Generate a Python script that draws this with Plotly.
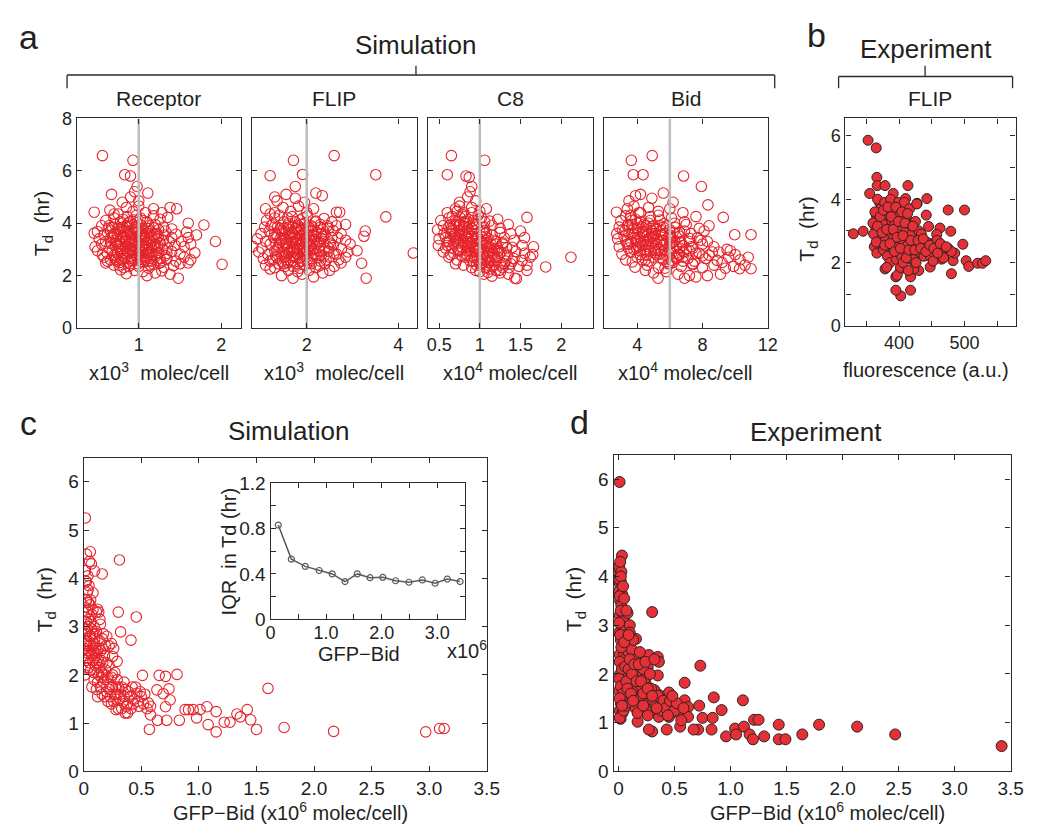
import plotly.graph_objects as go

# ---------------- DATA ----------------
receptor_pts = [
    (0.85,2.07),(1.10,2.00),(1.48,1.90),(0.95,2.20),(1.05,2.15),(1.20,2.10),(1.38,2.05),(0.78,2.22),(1.28,2.18),
    (0.70,2.40),(0.82,2.30),(0.90,2.45),(1.00,2.35),(1.12,2.28),(1.18,2.42),(1.30,2.32),(1.42,2.38),(1.50,2.45),(1.60,2.48),(2.01,2.43),(0.60,2.48),(1.25,2.47),
    (0.58,2.70),(0.66,2.60),(0.74,2.55),(0.83,2.65),(0.92,2.58),(0.98,2.72),(1.06,2.52),(1.14,2.66),(1.22,2.58),(1.34,2.62),(1.45,2.55),(1.55,2.70),(1.63,2.60),(0.87,2.52),(1.02,2.62),
    (0.50,2.95),(0.62,2.85),(0.70,2.78),(0.78,2.92),(0.86,2.82),(0.94,2.90),(1.00,2.80),(1.08,2.95),(1.16,2.80),(1.24,2.88),(1.32,2.76),(1.40,2.92),(1.50,2.82),(1.68,2.87),(0.56,2.78),(1.12,2.88),
    (0.47,3.10),(0.55,3.20),(0.64,3.05),(0.72,3.15),(0.80,3.02),(0.88,3.22),(0.96,3.08),(1.04,3.18),(1.10,3.00),(1.18,3.12),(1.26,3.22),(1.35,3.05),(1.44,3.15),(1.55,3.10),(1.63,3.20),(1.93,3.30),(0.84,3.12),
    (0.52,3.40),(0.60,3.30),(0.68,3.45),(0.76,3.32),(0.84,3.42),(0.92,3.28),(1.00,3.38),(1.07,3.48),(1.15,3.30),(1.22,3.42),(1.30,3.35),(1.40,3.45),(1.52,3.30),(1.60,3.45),(0.97,3.50),
    (0.50,3.68),(0.58,3.55),(0.66,3.70),(0.74,3.58),(0.82,3.72),(0.90,3.60),(0.98,3.66),(1.06,3.55),(1.14,3.70),(1.22,3.60),(1.32,3.70),(1.45,3.58),(1.58,3.66),(1.70,3.55),(0.46,3.62),
    (0.55,3.90),(0.63,3.80),(0.71,3.95),(0.79,3.82),(0.87,3.98),(0.95,3.85),(1.03,3.92),(1.11,3.80),(1.20,3.95),(1.30,3.85),(1.40,3.78),(1.60,4.00),(1.79,3.93),(0.68,3.85),
    (0.60,4.10),(0.70,4.20),(0.78,4.05),(0.86,4.25),(0.94,4.12),(1.02,4.20),(1.10,4.05),(1.18,4.28),(1.26,4.15),(1.35,4.22),(0.98,4.02),
    (0.46,4.42),(0.65,4.50),(0.75,4.35),(0.85,4.60),(0.93,4.45),(1.00,4.65),(1.08,4.40),(1.18,4.55),(1.38,4.60),(1.46,4.55),(1.28,4.40),
    (0.67,5.10),(0.80,4.80),(0.90,5.00),(1.00,4.85),(1.11,5.15),(0.95,5.20),
    (0.56,6.58),(0.93,6.40),(0.83,5.85),(0.90,5.80),(0.98,5.40),
    (0.80,3.50),(0.90,3.00),(1.00,3.25),(1.10,2.70),(0.85,3.85),(1.05,3.00),(0.75,3.10),(1.15,3.45),(0.95,2.60),(0.70,3.60),
    (0.62,2.55),(0.68,2.95),(0.73,3.35),(0.77,3.75),(0.81,4.15),(0.66,3.25),(0.71,2.68),(0.76,2.40),(0.79,3.20),(0.83,2.85),
    (0.86,3.55),(0.89,4.05),(0.91,2.65),(0.93,3.15),(0.96,3.85),(0.99,2.45),(1.01,3.05),(1.03,3.60),(1.05,4.10),(1.07,2.75),
    (1.09,3.25),(1.12,3.90),(1.14,2.40),(1.16,3.05),(1.19,3.55),(1.21,2.75),(1.23,3.15),(1.27,2.50),(1.29,3.00),(1.31,3.55),
    (1.34,2.85),(1.37,3.30),(0.64,3.90),(0.70,4.35),(0.79,2.60),(0.88,2.35),(0.97,4.30),(1.06,3.35),(1.13,3.15),(1.24,3.75),
    (0.74,2.85),(0.84,3.68),(0.92,3.45),(1.02,2.90),(1.11,2.55),(1.18,3.82),(1.26,2.65),(0.69,3.48),(0.87,3.10),(0.99,3.70),
    (0.72,2.62),(0.78,3.05),(0.82,3.45),(0.86,3.90),(0.90,2.75),(0.94,3.30),(0.98,3.78),(1.02,2.68),(1.06,3.12),(1.10,3.62),
    (1.14,2.90),(1.18,3.35),(1.22,2.85),(1.24,3.50),(0.75,3.80),(0.80,2.75),(0.84,3.28),(0.88,3.70),(0.92,2.95),(0.96,3.40),
    (1.00,2.95),(1.04,3.45),(1.08,2.60),(1.12,3.40),(1.16,2.55),(1.20,3.20),(0.73,3.25),(0.77,2.50),(0.81,3.85),(0.89,3.35),
    (0.97,2.85),(1.05,3.80),(1.13,3.60),(1.21,3.05),(0.66,3.45),(0.93,3.62),(1.01,3.50),(1.09,2.85),(0.85,2.95),(0.95,3.10),
]

flip_pts = [
    (1.45,2.00),(1.70,1.90),(1.90,2.05),(2.15,1.95),(2.35,2.10),(1.60,2.20),(2.05,2.20),(2.50,2.20),(3.30,1.90),(1.20,2.25),(1.80,2.15),
    (1.10,2.40),(1.30,2.30),(1.50,2.45),(1.70,2.35),(1.95,2.40),(2.20,2.30),(2.40,2.45),(2.60,2.35),(2.75,2.48),(3.20,2.47),(1.85,2.28),
    (1.05,2.65),(1.20,2.55),(1.35,2.70),(1.55,2.60),(1.75,2.70),(1.90,2.55),(2.10,2.65),(2.30,2.55),(2.50,2.70),(2.70,2.60),(2.85,2.70),(1.65,2.52),(2.00,2.72),
    (0.95,2.90),(1.15,2.80),(1.30,2.95),(1.45,2.82),(1.62,2.92),(1.80,2.80),(1.98,2.95),(2.15,2.85),(2.32,2.78),(2.48,2.92),(2.65,2.82),(2.90,2.90),(3.10,2.95),(1.72,2.98),
    (0.82,3.11),(1.02,3.05),(1.20,3.20),(1.38,3.08),(1.55,3.18),(1.72,3.05),(1.88,3.22),(2.05,3.10),(2.22,3.20),(2.40,3.05),(2.58,3.15),(2.76,3.02),(2.95,3.20),(1.95,3.00),
    (0.92,3.40),(1.10,3.30),(1.28,3.45),(1.45,3.32),(1.62,3.48),(1.80,3.35),(1.98,3.45),(2.15,3.30),(2.32,3.42),(2.50,3.28),(2.68,3.45),(2.85,3.35),(3.25,3.50),(1.70,3.28),
    (1.00,3.60),(1.18,3.70),(1.35,3.55),(1.52,3.68),(1.70,3.58),(1.88,3.72),(2.05,3.55),(2.22,3.65),(2.40,3.58),(2.58,3.72),(2.75,3.60),(3.28,3.70),(1.60,3.75),
    (1.08,3.85),(1.25,3.95),(1.42,3.80),(1.60,3.92),(1.78,3.82),(1.95,3.98),(2.12,3.85),(2.30,3.95),(2.48,3.80),(2.65,3.90),(2.85,3.95),(1.88,3.78),
    (1.12,4.10),(1.30,4.20),(1.50,4.05),(1.68,4.25),(1.85,4.12),(2.02,4.28),(2.20,4.08),(2.38,4.18),(2.55,4.05),(1.95,4.00),
    (1.10,4.55),(1.30,4.40),(1.48,4.60),(1.65,4.45),(1.82,4.65),(2.00,4.40),(2.15,4.55),(2.65,4.42),(2.72,4.42),(1.20,4.35),
    (1.35,4.85),(1.55,5.10),(1.75,4.95),(1.95,4.80),(2.20,5.15),(2.34,5.05),(1.30,5.00),
    (1.20,5.81),(1.71,6.40),(1.91,5.86),(1.75,5.40),(2.60,6.58),(3.51,5.85),(3.73,4.24),(4.33,2.86),
    (1.70,3.40),(1.85,3.00),(2.00,3.60),(1.60,2.85),(2.10,3.90),(1.90,3.30),(1.75,3.80),(2.05,2.50),
    (1.25,2.60),(1.35,3.00),(1.42,3.40),(1.50,3.80),(1.58,4.20),(1.30,3.60),(1.38,2.45),(1.48,2.90),(1.55,3.25),(1.62,2.60),
    (1.68,3.65),(1.75,4.05),(1.80,2.45),(1.84,3.15),(1.90,3.55),(1.95,2.75),(2.00,3.20),(2.05,3.85),(2.10,2.45),(2.15,3.00),
    (2.20,3.50),(2.25,2.70),(2.30,3.15),(2.35,3.75),(2.42,2.60),(2.48,3.05),(2.55,3.45),(2.60,2.85),(1.22,3.90),(1.40,4.30),
    (1.52,2.35),(1.66,3.00),(1.78,3.40),(1.92,4.20),(2.08,3.35),(2.18,4.05),(2.28,2.38),(2.45,3.90),(1.33,3.20),(1.72,2.70),
    (1.88,2.55),(2.02,2.95),(2.12,3.70),(2.38,3.30),(1.45,3.60),(1.60,4.00),(1.98,3.75),(2.25,3.30),(1.82,3.90),(2.52,3.20),
    (1.32,2.75),(1.40,3.25),(1.46,3.70),(1.52,2.70),(1.58,3.05),(1.64,3.55),(1.70,2.90),(1.76,3.20),(1.82,3.65),(1.86,2.68),
    (1.92,3.05),(1.96,3.50),(2.02,2.62),(2.08,3.15),(2.14,3.55),(2.20,2.80),(2.26,3.25),(2.32,3.60),(2.38,2.75),(1.36,3.85),
    (1.44,2.55),(1.54,3.40),(1.62,3.85),(1.68,2.75),(1.74,3.50),(1.86,3.40),(1.94,2.85),(2.04,3.70),(2.12,2.75),(2.18,3.38),
    (2.28,2.95),(2.36,3.50),(1.48,3.12),(1.58,2.50),(1.78,3.05),(1.98,3.25),(2.10,3.05),(2.30,3.85),(1.66,3.30),(1.88,3.95),
]

c8_pts = [
    (0.95,2.20),(1.05,2.05),(1.15,1.98),(1.25,2.10),(1.35,2.05),(1.43,1.90),(1.45,1.88),(1.00,2.15),(1.20,2.20),(1.58,2.20),(1.10,2.12),
    (0.80,2.40),(0.90,2.30),(1.00,2.45),(1.08,2.32),(1.18,2.42),(1.28,2.30),(1.38,2.45),(1.48,2.35),(1.58,2.40),(1.81,2.33),(0.70,2.45),
    (0.62,2.70),(0.72,2.60),(0.82,2.70),(0.92,2.55),(1.02,2.68),(1.12,2.58),(1.22,2.70),(1.32,2.55),(1.42,2.65),(1.52,2.58),(1.62,2.70),(2.12,2.70),(0.97,2.62),
    (0.55,2.90),(0.64,2.80),(0.74,2.95),(0.84,2.82),(0.94,2.92),(1.04,2.80),(1.14,2.95),(1.24,2.85),(1.34,2.78),(1.44,2.92),(1.55,2.85),(1.65,2.80),(0.88,2.98),
    (0.49,3.15),(0.58,3.05),(0.68,3.20),(0.78,3.08),(0.88,3.22),(0.98,3.05),(1.08,3.15),(1.18,3.02),(1.28,3.20),(1.40,3.08),(1.52,3.15),(1.66,3.10),(0.73,3.00),
    (0.50,3.40),(0.60,3.30),(0.70,3.45),(0.80,3.32),(0.90,3.48),(1.00,3.30),(1.10,3.42),(1.20,3.30),(1.30,3.45),(1.42,3.35),(1.55,3.45),(0.85,3.38),
    (0.48,3.75),(0.56,3.60),(0.65,3.70),(0.75,3.55),(0.85,3.68),(0.95,3.60),(1.05,3.72),(1.15,3.55),(1.25,3.65),(1.38,3.60),(1.50,3.70),(0.70,3.62),
    (0.55,3.90),(0.65,3.80),(0.75,3.95),(0.85,3.82),(0.95,3.98),(1.05,3.85),(1.15,3.92),(1.25,3.80),(1.35,3.95),(0.80,3.88),
    (0.52,4.10),(0.62,4.20),(0.72,4.05),(0.82,4.25),(0.92,4.10),(1.02,4.20),(1.12,4.08),(1.22,4.15),(1.58,4.22),(0.87,4.00),
    (0.60,4.40),(0.70,4.55),(0.80,4.40),(0.90,4.60),(1.00,4.45),(1.08,4.55),(0.75,4.65),
    (0.75,4.80),(0.85,5.00),(0.95,4.85),(0.88,5.20),
    (0.65,6.58),(1.06,6.40),(0.60,5.85),(0.83,5.80),(0.87,5.75),(0.90,5.40),
    (0.85,3.10),(0.95,3.40),(1.05,2.90),(0.75,3.70),(1.15,2.70),(0.90,3.80),(1.00,3.00),(0.80,3.30),(1.10,2.50),(0.95,2.75),
    (0.58,3.45),(0.62,3.85),(0.66,4.25),(0.70,3.30),(0.74,3.90),(0.78,4.35),(0.82,3.55),(0.86,4.15),(0.90,3.25),(0.94,3.70),
    (0.98,4.30),(1.02,3.50),(0.60,3.15),(0.68,2.85),(0.76,3.40),(0.84,2.95),(0.88,2.55),(0.92,3.05),(0.96,2.40),(1.00,2.85),
    (1.04,3.25),(1.06,2.30),(1.10,2.75),(1.13,3.10),(1.16,2.35),(1.20,2.60),(1.23,2.95),(1.26,2.40),(1.30,2.75),(1.33,3.05),
    (1.36,2.30),(1.40,2.55),(0.72,4.45),(0.80,4.05),(0.96,3.95),(1.08,3.65),(1.18,3.35),(0.64,3.60),(0.85,3.25),(0.93,2.70),
    (1.03,2.60),(1.12,2.25),(1.28,3.25),(0.70,3.95),(0.90,4.40),(1.06,4.05),(0.78,2.75),(0.98,3.45),(1.15,2.95),(1.24,2.20),
    (0.62,3.30),(0.66,3.70),(0.70,4.10),(0.74,3.25),(0.78,3.60),(0.82,4.00),(0.86,3.10),(0.90,3.50),(0.94,3.85),(0.98,2.95),
    (1.02,3.30),(1.06,3.60),(1.10,2.90),(1.14,3.20),(1.18,2.70),(1.22,3.05),(0.64,3.95),(0.72,3.45),(0.76,2.95),(0.80,3.75),
    (0.84,3.45),(0.88,2.75),(0.92,3.95),(0.96,3.20),(1.00,3.65),(1.04,2.70),(1.08,3.35),(1.12,2.50),(1.16,2.85),(1.20,3.20),
    (1.26,2.90),(1.30,2.45),(0.68,3.50),(0.76,4.20),(0.86,3.60),(0.94,3.05),(1.02,2.45),(1.10,3.10),(0.66,3.05),(0.82,3.15),
]

bid_pts = [
    (5.28,1.90),(4.50,2.20),(5.00,2.10),(5.80,2.15),(6.50,2.05),(7.20,2.00),(7.60,1.95),(8.30,2.00),(9.10,2.05),(6.90,1.90),
    (3.87,2.32),(4.60,2.40),(5.30,2.30),(6.00,2.45),(6.70,2.35),(7.40,2.42),(8.00,2.30),(8.70,2.40),(9.40,2.28),(10.27,2.26),(10.97,2.26),(9.90,2.35),(10.60,2.40),(5.70,2.28),
    (3.30,2.60),(4.00,2.70),(4.70,2.55),(5.40,2.68),(6.10,2.58),(6.80,2.70),(7.50,2.55),(8.20,2.65),(8.90,2.58),(9.60,2.70),(10.30,2.60),(10.80,2.70),(3.70,2.52),(6.40,2.72),
    (3.07,2.82),(3.60,2.90),(4.20,2.80),(4.80,2.95),(5.40,2.82),(6.00,2.92),(6.60,2.80),(7.20,2.95),(7.80,2.85),(8.40,2.78),(9.00,2.90),(9.70,2.95),(5.10,2.88),
    (2.90,3.10),(3.40,3.20),(3.95,3.05),(4.50,3.18),(5.05,3.02),(5.60,3.20),(6.20,3.08),(6.80,3.15),(7.40,3.05),(8.00,3.20),(8.70,3.10),(4.25,3.25),
    (2.80,3.40),(3.30,3.30),(3.85,3.45),(4.40,3.32),(4.95,3.48),(5.50,3.35),(6.05,3.45),(6.60,3.30),(7.20,3.42),(7.90,3.35),(4.70,3.40),
    (2.75,3.60),(3.25,3.72),(3.80,3.55),(4.35,3.68),(4.90,3.60),(5.45,3.72),(6.00,3.55),(6.60,3.65),(7.30,3.60),(8.10,3.70),(9.97,3.56),(10.97,3.56),
    (2.90,3.85),(3.45,3.95),(4.00,3.80),(4.55,3.92),(5.10,3.82),(5.65,3.98),(6.30,3.85),(7.00,3.95),(7.80,3.80),(8.40,3.90),
    (3.00,4.10),(3.60,4.20),(4.20,4.05),(4.80,4.25),(5.40,4.12),(6.10,4.20),(6.90,4.05),(7.60,4.25),(9.27,4.22),(3.30,4.28),
    (2.73,4.42),(3.40,4.55),(4.10,4.40),(4.70,4.60),(5.30,4.45),(6.00,4.55),(6.80,4.40),(8.33,4.70),(3.80,4.65),
    (3.50,4.85),(4.20,5.10),(4.90,4.95),(5.60,5.15),(6.20,4.80),(7.93,5.40),(3.90,5.05),
    (3.64,6.40),(4.92,6.58),(3.76,5.85),(4.36,5.85),(6.84,5.80),
    (4.50,3.00),(5.00,3.50),(4.00,3.30),(5.50,2.90),(4.80,3.80),(3.70,3.60),(5.20,3.20),(6.00,3.20),(4.30,2.60),(5.80,3.90),
    (3.20,3.50),(3.40,3.90),(3.60,4.30),(3.80,3.00),(4.00,3.60),(4.20,4.40),(4.40,2.90),(4.60,3.50),(4.80,4.10),(5.00,2.70),
    (5.20,3.40),(5.40,3.90),(5.60,2.60),(5.80,3.25),(6.00,3.75),(6.20,2.50),(6.40,3.10),(6.60,3.50),(6.80,2.55),(7.00,3.00),
    (7.20,3.30),(7.40,2.45),(7.60,2.85),(3.10,3.75),(3.50,3.20),(3.90,4.15),(4.10,3.10),(4.30,3.85),(4.50,2.60),(4.70,3.10),
    (4.90,3.70),(5.10,2.95),(5.30,4.30),(5.50,3.15),(5.70,3.60),(5.90,2.45),(6.10,3.45),(6.30,4.00),(6.50,2.80),(6.70,3.25),
    (6.90,3.70),(7.10,2.65),(7.30,3.10),(7.70,3.45),(8.00,2.75),(8.30,3.30),(8.60,2.90),(9.20,2.50),(9.50,3.00),(10.00,2.80),
    (3.50,3.60),(3.70,3.95),(3.90,3.35),(4.10,3.75),(4.30,3.15),(4.50,3.65),(4.70,4.00),(4.90,3.25),(5.10,3.60),(5.30,3.00),
    (5.50,3.55),(5.70,2.95),(5.90,3.45),(6.10,2.85),(6.30,3.30),(6.50,3.60),(3.60,3.30),(3.80,3.80),(4.00,4.00),(4.20,3.45),
    (4.40,3.95),(4.60,2.80),(4.80,3.45),(5.00,3.90),(5.20,2.80),(5.40,3.30),(5.60,3.85),(5.80,2.75),(6.00,3.05),(6.20,3.65),
    (6.40,2.65),(6.60,3.05),(3.45,3.05),(3.65,4.10),(4.15,2.95),(4.65,3.30),(5.15,3.75),(5.65,3.35),(6.15,3.25),(6.85,2.90),
]

exp_flip_pts = [
    (352.5,5.86),(365,5.62),(366,4.69),(366.5,4.43),(378.5,4.43),(413.5,4.43),(391,4.18),(355,4.18),(330,2.91),(345,2.99),
    (442.5,4.02),(410,4.02),(427.5,3.87),(475,3.66),(500,3.66),(441.5,3.50),(445,3.14),(462.5,3.09),(479,2.99),(457.5,2.89),
    (497.5,2.58),(502.5,2.06),(506.5,1.88),(520,1.98),(527.5,1.98),(532.5,2.06),(480,1.65),(482.5,2.06),(485,2.30),(470,2.37),
    (465,2.11),(447.5,1.86),(430,1.75),(417.5,1.55),(417.5,1.13),(402.5,0.95),(395,1.13),(395,1.55),(402.5,1.80),(378.5,1.80),(422.5,1.80),
    (362,3.20),(365,3.50),(368,2.80),(362,2.50),(370,3.90),(366,2.30),(372,3.70),(364,3.00),(369,3.30),(360,3.25),(373,2.60),(367,4.00),
    (378,3.90),(380,3.40),(383,2.90),(376,2.40),(385,3.70),(388,3.10),(382,2.20),(379,2.70),(387,4.00),(390,2.50),(384,3.50),(377,3.20),(386,2.00),(381,1.85),(389,3.30),
    (392,3.60),(395,2.90),(398,2.30),(393,3.20),(400,3.50),(403,2.70),(396,2.10),(401,3.00),(394,2.50),(404,2.20),(399,3.90),(391,2.75),(397,1.60),(402,1.85),(405,3.30),
    (407,2.60),(410,3.00),(412,2.30),(408,3.90),(415,2.80),(418,2.10),(411,3.40),(416,3.70),(413,2.55),(419,2.40),(406,2.00),(414,1.75),(417,3.20),(420,2.90),
    (423,2.60),(428,2.30),(432,2.80),(425,3.30),(436,2.50),(430,3.00),(438,2.20),(422,2.10),(434,2.90),(427,3.85),(440,2.60),(426,2.00),
    (445,2.40),(450,2.60),(455,2.30),(460,2.50),(448,2.20),(465,2.40),(470,2.30),(458,2.70),(452,2.05),(475,2.45),(442,2.65),(468,2.15),(480,2.35),
    (361,2.90),(363,3.60),(365,2.65),(367,3.15),(371,3.45),(374,2.95),(376,3.65),(378,2.55),(381,3.05),(383,3.75),
    (386,2.60),(388,3.45),(391,3.05),(393,2.35),(395,3.75),(397,2.80),(399,3.30),(402,2.45),(404,3.60),(406,2.85),
    (409,3.25),(411,2.15),(413,3.55),(415,2.40),(418,2.70),(421,3.15),(424,2.40),(429,2.70),(433,2.45),(437,2.75),
    (441,2.35),(447,2.55),(453,2.45),(459,2.30),(463,2.60),(472,2.50),
]

sim_bid_pts = [
    (0.014,5.25),(0.023,4.50),(0.057,4.55),(0.066,4.30),(0.094,4.15),(0.16,4.09),(0.31,4.38),(0.014,4.16),(0.023,3.93),(0.037,3.76),
    (0.30,3.30),(0.456,3.20),(0.32,2.89),(0.41,2.72),(0.145,3.05),(0.12,3.36),(0.24,2.65),(0.25,2.38),(0.29,2.28),(0.51,1.99),
    (0.655,1.99),(0.71,1.97),(0.81,2.01),(0.635,1.69),(0.74,1.71),(0.69,1.61),(0.71,1.34),(0.56,1.42),(0.58,1.17),(0.57,0.87),
    (0.64,1.06),(0.72,1.06),(0.83,1.06),(0.75,1.48),(0.88,1.28),(0.98,1.11),(1.01,1.28),(1.07,1.34),(1.08,0.97),(1.15,1.24),
    (1.15,0.82),(1.22,1.02),(1.27,1.02),(1.33,1.19),(1.36,1.13),(1.42,1.28),(1.45,1.07),(1.50,0.87),(1.60,1.72),(1.74,0.91),
    (2.17,0.83),(2.97,0.82),(3.09,0.89),(3.13,0.89),(0.95,1.28),(0.91,1.28),(0.38,1.21),(0.36,1.21),(0.28,1.28),
    (0.01,2.00),(0.02,2.30),(0.03,2.60),(0.01,2.85),(0.025,3.10),(0.015,3.40),(0.04,2.15),(0.035,2.45),(0.02,2.70),(0.045,3.00),
    (0.03,3.30),(0.005,2.55),(0.05,2.80),(0.01,3.20),(0.04,3.50),(0.03,3.70),(0.015,3.95),(0.045,3.85),
    (0.06,2.10),(0.07,2.40),(0.08,2.60),(0.06,2.80),(0.09,3.00),(0.07,3.25),(0.10,2.20),(0.085,2.50),(0.065,2.95),(0.095,2.75),
    (0.055,3.45),(0.08,3.35),(0.10,2.55),(0.07,1.75),(0.09,1.90),
    (0.11,1.70),(0.13,2.00),(0.15,2.30),(0.12,2.50),(0.17,1.85),(0.14,2.70),(0.19,2.10),(0.16,2.55),(0.12,1.55),(0.18,2.40),
    (0.11,2.90),(0.20,1.65),(0.15,1.95),(0.13,3.30),(0.17,2.85),(0.19,2.60),
    (0.21,1.45),(0.23,1.80),(0.25,2.00),(0.22,2.20),(0.27,1.60),(0.24,1.40),(0.29,1.90),(0.26,2.55),(0.28,1.50),(0.30,1.75),
    (0.22,2.60),(0.27,2.05),(0.30,1.30),
    (0.32,1.60),(0.34,1.45),(0.36,1.70),(0.38,1.40),(0.40,1.55),(0.42,1.75),(0.44,1.50),(0.46,1.62),(0.48,1.35),(0.50,1.55),
    (0.35,1.85),(0.41,1.30),(0.47,1.45),(0.33,1.30),(0.45,1.75),(0.49,1.65),
    (0.52,1.40),(0.55,1.30),(0.58,1.35),(0.53,1.60),
    (0.005,2.40),(0.015,2.65),(0.02,2.90),(0.008,3.05),(0.025,3.55),(0.035,2.35),(0.04,2.70),(0.012,2.15),(0.03,2.95),(0.045,2.50),
    (0.05,2.25),(0.055,2.60),(0.06,3.10),(0.065,2.45),(0.075,2.85),(0.08,2.30),(0.085,2.05),(0.09,2.65),(0.095,2.35),(0.10,2.85),
    (0.105,2.45),(0.11,2.25),(0.115,2.05),(0.12,1.85),(0.125,2.30),(0.13,2.55),(0.14,2.15),(0.145,1.75),(0.15,2.50),(0.155,2.05),
    (0.16,1.60),(0.165,2.25),(0.17,2.00),(0.18,1.55),(0.185,1.90),(0.20,2.25),(0.21,1.95),(0.22,1.70),(0.23,1.55),(0.24,1.95),
    (0.25,1.75),(0.26,1.45),(0.28,1.75),(0.29,1.60),(0.31,1.50),(0.33,1.75),(0.35,1.55),(0.37,1.35),(0.39,1.65),(0.43,1.40),
    (0.02,3.55),(0.04,3.15),(0.06,3.55),(0.035,4.05),(0.05,4.35),(0.08,3.70),(0.11,3.30),(0.14,3.15),(0.16,2.75),(0.20,2.80),
]

exp_bid_pts = [
    (0.009,5.94),(0.03,4.43),(0.00,4.16),(0.01,3.86),(0.015,3.60),(0.30,3.27),(0.02,3.06),(0.155,2.72),(0.27,2.39),(0.35,2.35),
    (0.36,2.25),(0.35,1.97),(0.26,2.15),(0.24,1.82),(0.73,2.17),(0.59,1.82),(0.85,1.52),(1.11,1.46),(0.92,1.26),(0.59,1.46),
    (0.45,1.62),(0.36,1.57),(0.32,1.67),(0.72,1.35),(0.75,1.10),(0.84,1.10),(0.83,0.86),(0.71,0.86),(0.67,0.86),(0.55,0.92),
    (0.43,0.86),(0.30,0.82),(0.27,0.86),(0.17,1.02),(0.96,0.72),(1.04,0.88),(1.05,0.76),(1.12,0.92),(1.17,0.76),(1.20,0.66),
    (1.21,1.06),(1.25,1.06),(1.30,0.72),(1.43,0.96),(1.43,0.66),(1.49,0.66),(1.64,0.76),(1.79,0.96),(2.13,0.92),(2.47,0.76),
    (3.42,0.52),(0.018,1.08),(0.01,1.25),(0.02,1.52),(0.54,1.20),(0.62,1.32),(0.49,1.38),(0.62,1.12),(0.45,1.12),(0.36,1.12),
    (0.31,1.28),(0.25,1.42),
    (0.005,4.20),(0.01,4.00),(0.02,3.90),(0.005,3.70),(0.015,3.50),(0.025,3.40),(0.01,3.20),(0.03,3.00),(0.005,2.85),(0.02,2.70),
    (0.035,2.55),(0.01,2.40),(0.025,2.25),(0.04,3.25),(0.03,3.65),(0.015,2.00),(0.03,1.85),(0.005,1.65),(0.02,1.40),(0.035,1.20),
    (0.01,1.10),(0.04,2.90),(0.025,4.10),(0.015,4.30),
    (0.05,3.10),(0.06,2.90),(0.07,2.60),(0.05,2.40),(0.08,2.20),(0.06,2.00),(0.09,1.80),(0.07,1.60),(0.05,1.50),(0.10,1.90),
    (0.08,2.70),(0.06,2.30),(0.09,2.45),(0.10,3.00),(0.045,1.25),(0.07,1.35),(0.08,3.25),(0.065,1.95),
    (0.11,2.10),(0.13,1.80),(0.15,2.35),(0.12,2.50),(0.17,1.60),(0.14,1.50),(0.19,2.00),(0.16,2.15),(0.11,1.40),(0.18,1.75),
    (0.13,2.70),(0.20,1.40),(0.15,1.30),(0.12,1.65),(0.17,1.20),(0.19,2.45),(0.10,2.85),
    (0.21,1.55),(0.23,1.90),(0.25,1.30),(0.22,2.10),(0.27,1.50),(0.29,1.70),(0.24,1.60),(0.31,1.45),(0.28,2.00),(0.33,1.35),
    (0.35,1.55),(0.38,1.25),(0.26,1.15),(0.40,1.45),(0.22,1.35),
    (0.42,1.30),(0.46,1.45),(0.50,1.25),(0.44,1.15),(0.52,1.40),(0.56,1.05),(0.48,1.55),(0.58,1.30),
    (0.005,3.95),(0.01,3.60),(0.02,3.30),(0.005,3.05),(0.015,2.80),(0.025,2.55),(0.01,2.25),(0.03,2.10),(0.005,1.90),(0.02,1.75),
    (0.04,1.60),(0.01,1.50),(0.03,1.35),(0.05,2.65),(0.06,2.15),(0.07,1.85),(0.08,1.70),(0.09,2.10),(0.10,2.30),(0.11,1.60),
    (0.12,2.00),(0.13,1.45),(0.14,2.20),(0.16,1.85),(0.18,2.20),(0.20,1.85),(0.22,1.60),(0.24,2.25),(0.26,1.70),(0.30,1.55),
    (0.32,2.30),(0.34,1.30),(0.05,3.55),(0.07,3.30),(0.09,2.80),(0.02,4.00),(0.04,3.80),
]

iqr_bid = [0.14, 0.375, 0.625, 0.875, 1.11, 1.34, 1.56, 1.79, 2.02, 2.25, 2.49, 2.73, 2.96, 3.18, 3.41]
iqr_td = [0.83, 0.53, 0.466, 0.43, 0.40, 0.333, 0.40, 0.367, 0.37, 0.34, 0.327, 0.347, 0.318, 0.355, 0.333]

sim_names = ["Receptor", "FLIP", "C8", "Bid"]
sim_units = ["x10<sup>3</sup>\u00a0 molec/cell", "x10<sup>3</sup>\u00a0 molec/cell",
             "x10<sup>4</sup> molec/cell", "x10<sup>4</sup> molec/cell"]
sim_ref = [1, 2, 1, 6]  # gray reference lines (nominal levels)
sim_xticks = [[1, 2], [2, 4], [0.5, 1, 1.5, 2], [4, 8, 12]]
sim_xtext = [["1", "2"], ["2", "4"], ["0.5", "1", "1.5", "2"], ["4", "8", "12"]]

# ---------------- STYLE / LAYOUT ----------------
W, H = 1050, 831
RED = "rgb(229,36,43)"
FILL = "rgb(228,48,54)"
EDGE = "rgb(50,35,35)"
FONT = "Liberation Sans, Arial, sans-serif"
TXT = "#231f20"
AX = "#2b2b2b"


def px(x):
    return x / W


def py(y):
    return 1 - y / H


def dx(a, b):
    return [px(a), px(b)]


def dy(top, bottom):
    return [py(bottom), py(top)]


def xs(p):
    return [a for a, _ in p]


def ys(p):
    return [b for _, b in p]


def axis(domain, rng, tickvals, ticktext, anchor, size=18, show=True, minor=None, standoff=0):
    d = dict(domain=domain, range=rng, tickvals=tickvals, ticktext=ticktext,
             ticks="inside", ticklen=5, tickwidth=1, tickcolor=AX,
             showline=True, linecolor=AX, linewidth=1.3, mirror="ticks",
             showgrid=False, zeroline=False, anchor=anchor,
             showticklabels=show, ticklabelstandoff=standoff,
             tickfont=dict(size=size, family=FONT, color=TXT))
    if minor is not None:
        d["minor"] = dict(tickvals=minor, ticks="inside", ticklen=5, tickwidth=1,
                          tickcolor=AX, showgrid=False)
    return d


fig = go.Figure()
layout = {}

a_xpix = [(65, 232), (243, 411), (422, 590), (601, 768)]
a_ranges = [[0.25, 2.24], [0.8, 4.41], [0.36, 2.39], [1.95, 12.0]]
a_data = [receptor_pts, flip_pts, c8_pts, bid_pts]

for i in range(4):
    n = i + 1
    xn = "x" if n == 1 else f"x{n}"
    yn = "y" if n == 1 else f"y{n}"
    fig.add_trace(go.Scatter(
        x=xs(a_data[i]), y=ys(a_data[i]), mode="markers", xaxis=xn, yaxis=yn,
        marker=dict(symbol="circle-open", size=10.5, color=RED, line=dict(width=1.1)),
        showlegend=False, hoverinfo="skip"))
    fig.add_trace(go.Scatter(
        x=[sim_ref[i], sim_ref[i]], y=[0, 8], mode="lines", xaxis=xn, yaxis=yn,
        line=dict(color="#bdbdbd", width=2.5), showlegend=False, hoverinfo="skip"))
    kx = "xaxis" if n == 1 else f"xaxis{n}"
    ky = "yaxis" if n == 1 else f"yaxis{n}"
    layout[kx] = axis(dx(*a_xpix[i]), a_ranges[i], sim_xticks[i], sim_xtext[i], yn)
    layout[ky] = axis(dy(103, 318), [0, 8], [0, 2, 4, 6, 8], ["0", "2", "4", "6", "8"], xn,
                      show=(n == 1))

# panel b
fig.add_trace(go.Scatter(
    x=xs(exp_flip_pts), y=ys(exp_flip_pts), mode="markers", xaxis="x5", yaxis="y5",
    marker=dict(symbol="circle", size=10, color=FILL, line=dict(width=1, color=EDGE)),
    showlegend=False, hoverinfo="skip"))
layout["xaxis5"] = axis(dx(847, 1020), [318, 578], [400, 500], ["400", "500"], "y5",
                        minor=[350, 450, 550])
layout["yaxis5"] = axis(dy(103, 316), [0, 6.55], [0, 2, 4, 6], ["0", "2", "4", "6"], "x5",
                        minor=[1, 3, 5])

# panel c
fig.add_trace(go.Scatter(
    x=xs(sim_bid_pts), y=ys(sim_bid_pts), mode="markers", xaxis="x6", yaxis="y6",
    marker=dict(symbol="circle-open", size=10.5, color=RED, line=dict(width=1.1)),
    showlegend=False, hoverinfo="skip"))
cd_xt = [0, 0.5, 1, 1.5, 2, 2.5, 3, 3.5]
cd_xl = ["0", "0.5", "1.0", "1.5", "2.0", "2.5", "3.0", "3.5"]
layout["xaxis6"] = axis(dx(72, 482), [0, 3.5], cd_xt, cd_xl, "y6", size=19)
layout["yaxis6"] = axis(dy(451, 773), [0, 6.5], [0, 1, 2, 3, 4, 5, 6],
                        ["0", "1", "2", "3", "4", "5", "6"], "x6", size=19)

# inset
fig.add_trace(go.Scatter(
    x=iqr_bid, y=iqr_td, mode="lines+markers", xaxis="x7", yaxis="y7",
    line=dict(color="#5a5a5a", width=1.5),
    marker=dict(symbol="circle-open", size=6, color="#5a5a5a", line=dict(width=1.2)),
    showlegend=False, hoverinfo="skip"))
layout["xaxis7"] = axis(dx(262, 460), [0, 3.5], [0, 1, 2, 3], ["0", "1.0", "2.0", "3.0"],
                        "y7", size=18, minor=[0.5, 1.5, 2.5], standoff=-3)
layout["yaxis7"] = axis(dy(477, 617), [0, 1.2], [0, 0.4, 0.8, 1.2], ["0", "0.4", "0.8", "1.2"],
                        "x7", size=19, minor=[0.2, 0.6, 1.0])

# panel d
fig.add_trace(go.Scatter(
    x=xs(exp_bid_pts), y=ys(exp_bid_pts), mode="markers", xaxis="x8", yaxis="y8",
    marker=dict(symbol="circle", size=11, color=FILL, line=dict(width=1, color=EDGE)),
    showlegend=False, hoverinfo="skip"))
layout["xaxis8"] = axis(dx(611, 1015), [-0.045, 3.5], cd_xt, cd_xl, "y8", size=19)
layout["yaxis8"] = axis(dy(448, 773), [0, 6.5], [0, 1, 2, 3, 4, 5, 6],
                        ["0", "1", "2", "3", "4", "5", "6"], "x8", size=19)

# ---------------- ANNOTATIONS ----------------
ann = []


def text(x, y, s, size, angle=0):
    ann.append(dict(x=px(x), y=py(y), xref="paper", yref="paper", text=s,
                    showarrow=False, xanchor="center", yanchor="middle",
                    textangle=angle, font=dict(size=size, family=FONT, color=TXT)))


TD = "T<sub>d</sub>\u00a0 (hr)"
text(16, 19, "a", 34)
text(410, 28, "Simulation", 26)
text(818, 17, "b", 34)
text(929, 32, "Experiment", 26)
for i, nm in enumerate(sim_names):
    cx = (a_xpix[i][0] + a_xpix[i][1]) / 2
    text(cx, 83, nm, 21)
    text(cx, 363, sim_units[i], 20)
text(933, 83, "FLIP", 21)
text(30, 211, TD, 21, -90)
text(808, 217, TD, 21, -90)
text(929, 361, "fluorescence (a.u.)", 20)

text(16, 416, "c", 34)
text(280, 424, "Simulation", 26)
text(576, 414, "d", 34)
text(817, 425, "Experiment", 26)
text(33, 597, TD, 21, -90)
text(572, 597, TD, 21, -90)
text(282, 814, "GFP\u2212Bid (x10<sup>6</sup> molec/cell)", 20)
text(829, 814, "GFP\u2212Bid (x10<sup>6</sup> molec/cell)", 20)
text(220, 548, "IQR\u00a0 in Td (hr)", 20, -90)
text(352, 653, "GFP\u2212Bid", 20)
text(462, 648, "x10<sup>6</sup>", 20)

# ---------------- BRACKETS ----------------
shapes = []


def seg(x0, y0, x1, y1):
    shapes.append(dict(type="line", xref="paper", yref="paper",
                       x0=px(x0), y0=py(y0), x1=px(x1), y1=py(y1),
                       line=dict(color=AX, width=1.3)))


seg(55, 58.5, 775, 58.5); seg(55, 58.5, 55, 72); seg(775, 58.5, 775, 72); seg(410, 49, 410, 58.5)
seg(840, 60, 1017, 60); seg(840, 60, 840, 72); seg(1017, 60, 1017, 72); seg(928, 49, 928, 60)

fig.update_layout(width=W, height=H, margin=dict(l=0, r=0, t=0, b=0),
                  paper_bgcolor="white", plot_bgcolor="white",
                  annotations=ann, shapes=shapes, showlegend=False, **layout)

fig.write_html("out.html")
